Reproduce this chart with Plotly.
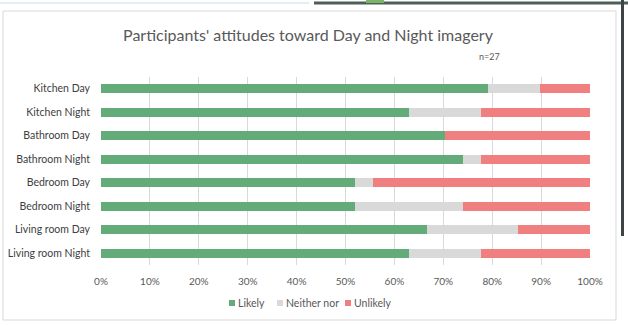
import plotly.graph_objects as go

categories = ["Kitchen Day", "Kitchen Night", "Bathroom Day", "Bathroom Night",
              "Bedroom Day", "Bedroom Night", "Living room Day", "Living room Night"]
likely = [79.1, 63.0, 70.4, 74.1, 51.9, 51.9, 66.7, 63.0]
neither = [10.6, 14.8, 0.0, 3.7, 3.7, 22.2, 18.5, 14.8]
unlikely = [10.3, 22.2, 29.6, 22.2, 44.4, 25.9, 14.8, 22.2]
series_names = ["Likely", "Neither nor", "Unlikely"]
series_colors = ["#64AB7A", "#D9D9D9", "#F08080"]
tick_vals = [0, 10, 20, 30, 40, 50, 60, 70, 80, 90, 100]
tick_text = ["0%", "10%", "20%", "30%", "40%", "50%", "60%", "70%", "80%", "90%", "100%"]

FONT = "Lato, Carlito, Calibri, sans-serif"
W, H = 628, 325
L, R, T, B = 101, 38, 77, 60
PW, PH = W - L - R, H - T - B


def px(x):
    return (x - L) / PW


def py(y):
    return (H - B - y) / PH


fig = go.Figure()
for name, vals, col in zip(series_names, [likely, neither, unlikely], series_colors):
    fig.add_trace(go.Bar(y=categories, x=vals, name=name, orientation="h",
                         marker=dict(color=col, line=dict(width=0)),
                         hoverinfo="x+y", showlegend=False))

shapes = [
    # chart border
    dict(type="rect", xref="paper", yref="paper", x0=px(3), x1=px(616), y0=py(320), y1=py(11),
         line=dict(color="#D9D9D9", width=1), fillcolor="rgba(0,0,0,0)", layer="below"),
    # screenshot artifacts at the top/right
    dict(type="line", xref="paper", yref="paper", x0=px(0), x1=px(309), y0=py(3), y1=py(3),
         line=dict(color="#C9DCE8", width=1)),
    dict(type="rect", xref="paper", yref="paper", x0=px(314), x1=px(628), y0=py(4.5), y1=py(1.5),
         line=dict(width=0), fillcolor="#4E5F58"),
    dict(type="rect", xref="paper", yref="paper", x0=px(366), x1=px(384), y0=py(3), y1=py(0),
         line=dict(width=0), fillcolor="#7DB36A"),
    dict(type="rect", xref="paper", yref="paper", x0=px(621), x1=px(624), y0=py(236), y1=py(0),
         line=dict(width=0), fillcolor="#3E4446"),
]

annotations = [dict(text="n=27", xref="paper", yref="paper", x=px(489), y=py(57),
                    showarrow=False, xanchor="center", yanchor="middle",
                    font=dict(family=FONT, size=9, color="#595959"))]

# compact legend (swatch + label), positioned like the original
legend_x = [229, 277, 345]
for name, col, lx in zip(series_names, series_colors, legend_x):
    shapes.append(dict(type="rect", xref="paper", yref="paper",
                       x0=px(lx), x1=px(lx + 6), y0=py(306), y1=py(300),
                       line=dict(width=0), fillcolor=col))
    annotations.append(dict(text=name, xref="paper", yref="paper",
                            x=px(lx + 7), y=py(303), showarrow=False,
                            xanchor="left", yanchor="middle",
                            font=dict(family=FONT, size=10.5, color="#595959")))

fig.update_layout(
    width=W, height=H,
    margin=dict(l=L, r=R, t=T, b=B, autoexpand=False),
    paper_bgcolor="white", plot_bgcolor="white",
    barmode="stack", bargap=0.6,
    showlegend=False,
    font=dict(family=FONT, color="#595959", size=10),
    title=dict(text="Participants' attitudes toward Day and Night imagery",
               xref="container", x=308 / W, xanchor="center", y=1 - 35.5 / H, yanchor="middle",
               font=dict(family=FONT, size=16, color="#595959")),
    xaxis=dict(range=[0, 100], tickvals=tick_vals, ticktext=tick_text,
               showgrid=True, gridcolor="#D9D9D9", gridwidth=1, zeroline=False,
               showline=False, ticks="", ticklabelstandoff=9, automargin=False,
               tickfont=dict(size=10, color="#595959"), fixedrange=True),
    yaxis=dict(categoryorder="array", categoryarray=categories, autorange="reversed",
               showgrid=False, showline=False, ticks="", ticklen=0,
               ticklabelstandoff=10, automargin=False,
               tickfont=dict(size=10.5, color="#404040"), fixedrange=True),
    annotations=annotations,
    shapes=shapes,
)

fig.write_html("out.html")
